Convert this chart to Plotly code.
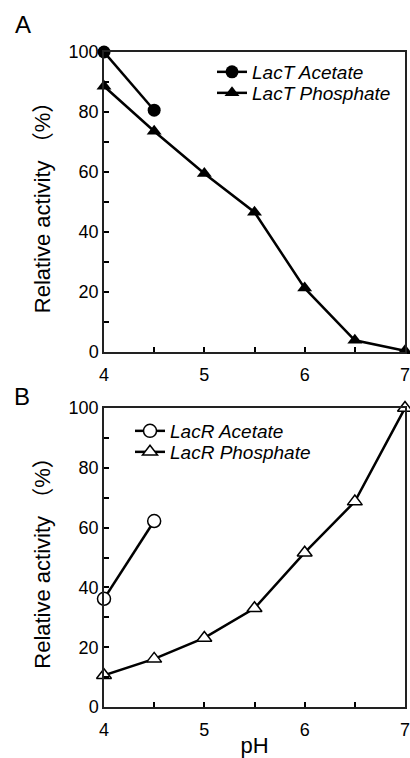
import plotly.graph_objects as go

ph = [4, 4.5, 5, 5.5, 6, 6.5, 7]
ph_acetate = [4, 4.5]

lacT_acetate = [100, 80.6]
lacT_phosphate = [88.6, 73.6, 59.5, 46.6, 21.3, 3.9, 0.4]
lacR_acetate = [36.2, 62.2]
lacR_phosphate = [10.6, 16.1, 23.1, 33.0, 51.6, 68.7, 100]

FONT = "Liberation Sans, Arial, Noto Sans CJK SC, sans-serif"
BLACK = "#000000"
W, H = 410, 758
X_LEFT, X_RIGHT = 104, 405

fig = go.Figure()

fig.add_trace(go.Scatter(x=ph_acetate, y=lacT_acetate, name="LacT Acetate", mode="lines+markers",
                         line=dict(color=BLACK, width=2.5),
                         marker=dict(symbol="circle", size=13, color=BLACK),
                         cliponaxis=False, xaxis="x", yaxis="y", legend="legend"))
fig.add_trace(go.Scatter(x=ph, y=lacT_phosphate, name="LacT Phosphate", mode="lines+markers",
                         line=dict(color=BLACK, width=2.5),
                         marker=dict(symbol="triangle-up", size=13, color=BLACK),
                         cliponaxis=False, xaxis="x", yaxis="y", legend="legend2"))
fig.add_trace(go.Scatter(x=ph_acetate, y=lacR_acetate, name="LacR Acetate", mode="lines+markers",
                         line=dict(color=BLACK, width=2.5),
                         marker=dict(symbol="circle", size=13, color="white", line=dict(color=BLACK, width=1.5)),
                         cliponaxis=False, xaxis="x2", yaxis="y2", legend="legend3"))
fig.add_trace(go.Scatter(x=ph, y=lacR_phosphate, name="LacR Phosphate", mode="lines+markers",
                         line=dict(color=BLACK, width=2.5),
                         marker=dict(symbol="triangle-up", size=13, color="white", line=dict(color=BLACK, width=1.5)),
                         cliponaxis=False, xaxis="x2", yaxis="y2", legend="legend4"))

def xax(anchor, title=None):
    d = dict(range=[4, 7], dtick=1, tick0=4, ticks="inside", ticklen=5, tickwidth=1.5,
             tickcolor=BLACK, showline=True, linecolor="#222222", linewidth=1.5, mirror=True,
             showgrid=False, zeroline=False, domain=[X_LEFT / W, X_RIGHT / W], automargin=False,
             ticklabeloverflow="allow", ticklabelstandoff=6,
             tickfont=dict(family=FONT, size=18, color=BLACK),
             minor=dict(dtick=0.5, ticks="inside", ticklen=5, tickwidth=1.5, tickcolor=BLACK),
             anchor=anchor)
    if title:
        d["title"] = dict(text=title, font=dict(family=FONT, size=22, color=BLACK), standoff=0)
    return d

def yax(top_px, bot_px, anchor):
    return dict(range=[0, 100], dtick=20, ticks="inside", ticklen=5, tickwidth=1.5,
                tickcolor=BLACK, showline=True, linecolor="#222222", linewidth=1.5, mirror=True,
                showgrid=False, zeroline=False, domain=[1 - bot_px / H, 1 - top_px / H],
                automargin=False,
                tickfont=dict(family=FONT, size=18, color=BLACK),
                minor=dict(dtick=10, ticks="inside", ticklen=5, tickwidth=1.5, tickcolor=BLACK),
                title=dict(text="Relative activity （%）", font=dict(family=FONT, size=22, color=BLACK), standoff=12),
                anchor=anchor)

def leg(x_px, y_px):
    return dict(x=x_px / W, y=1 - y_px / H, xanchor="left", yanchor="middle",
                font=dict(family=FONT, size=19, color=BLACK, style="italic"),
                bgcolor="rgba(0,0,0,0)", itemwidth=30)

fig.update_layout(
    width=W, height=H,
    margin=dict(l=0, r=0, t=0, b=0, autoexpand=False),
    paper_bgcolor="white", plot_bgcolor="white",
    font=dict(family=FONT, color=BLACK),
    xaxis=xax("y"),
    yaxis=yax(52, 352, "x"),
    xaxis2=xax("y2", "pH"),
    yaxis2=yax(408, 707, "x2"),
    legend=leg(212, 72),
    legend2=leg(212, 93),
    legend3=leg(130, 431),
    legend4=leg(130, 452),
    showlegend=True,
    annotations=[
        dict(text="A", x=13 / W, y=1 - 24 / H, xref="paper", yref="paper", xanchor="left", yanchor="middle",
             showarrow=False, font=dict(family=FONT, size=24, color=BLACK)),
        dict(text="B", x=12 / W, y=1 - 396 / H, xref="paper", yref="paper", xanchor="left", yanchor="middle",
             showarrow=False, font=dict(family=FONT, size=24, color=BLACK)),
    ],
)

fig.write_html("out.html", config={"displayModeBar": False},
               post_script="document.body.style.margin='0';document.body.style.overflow='hidden';")
